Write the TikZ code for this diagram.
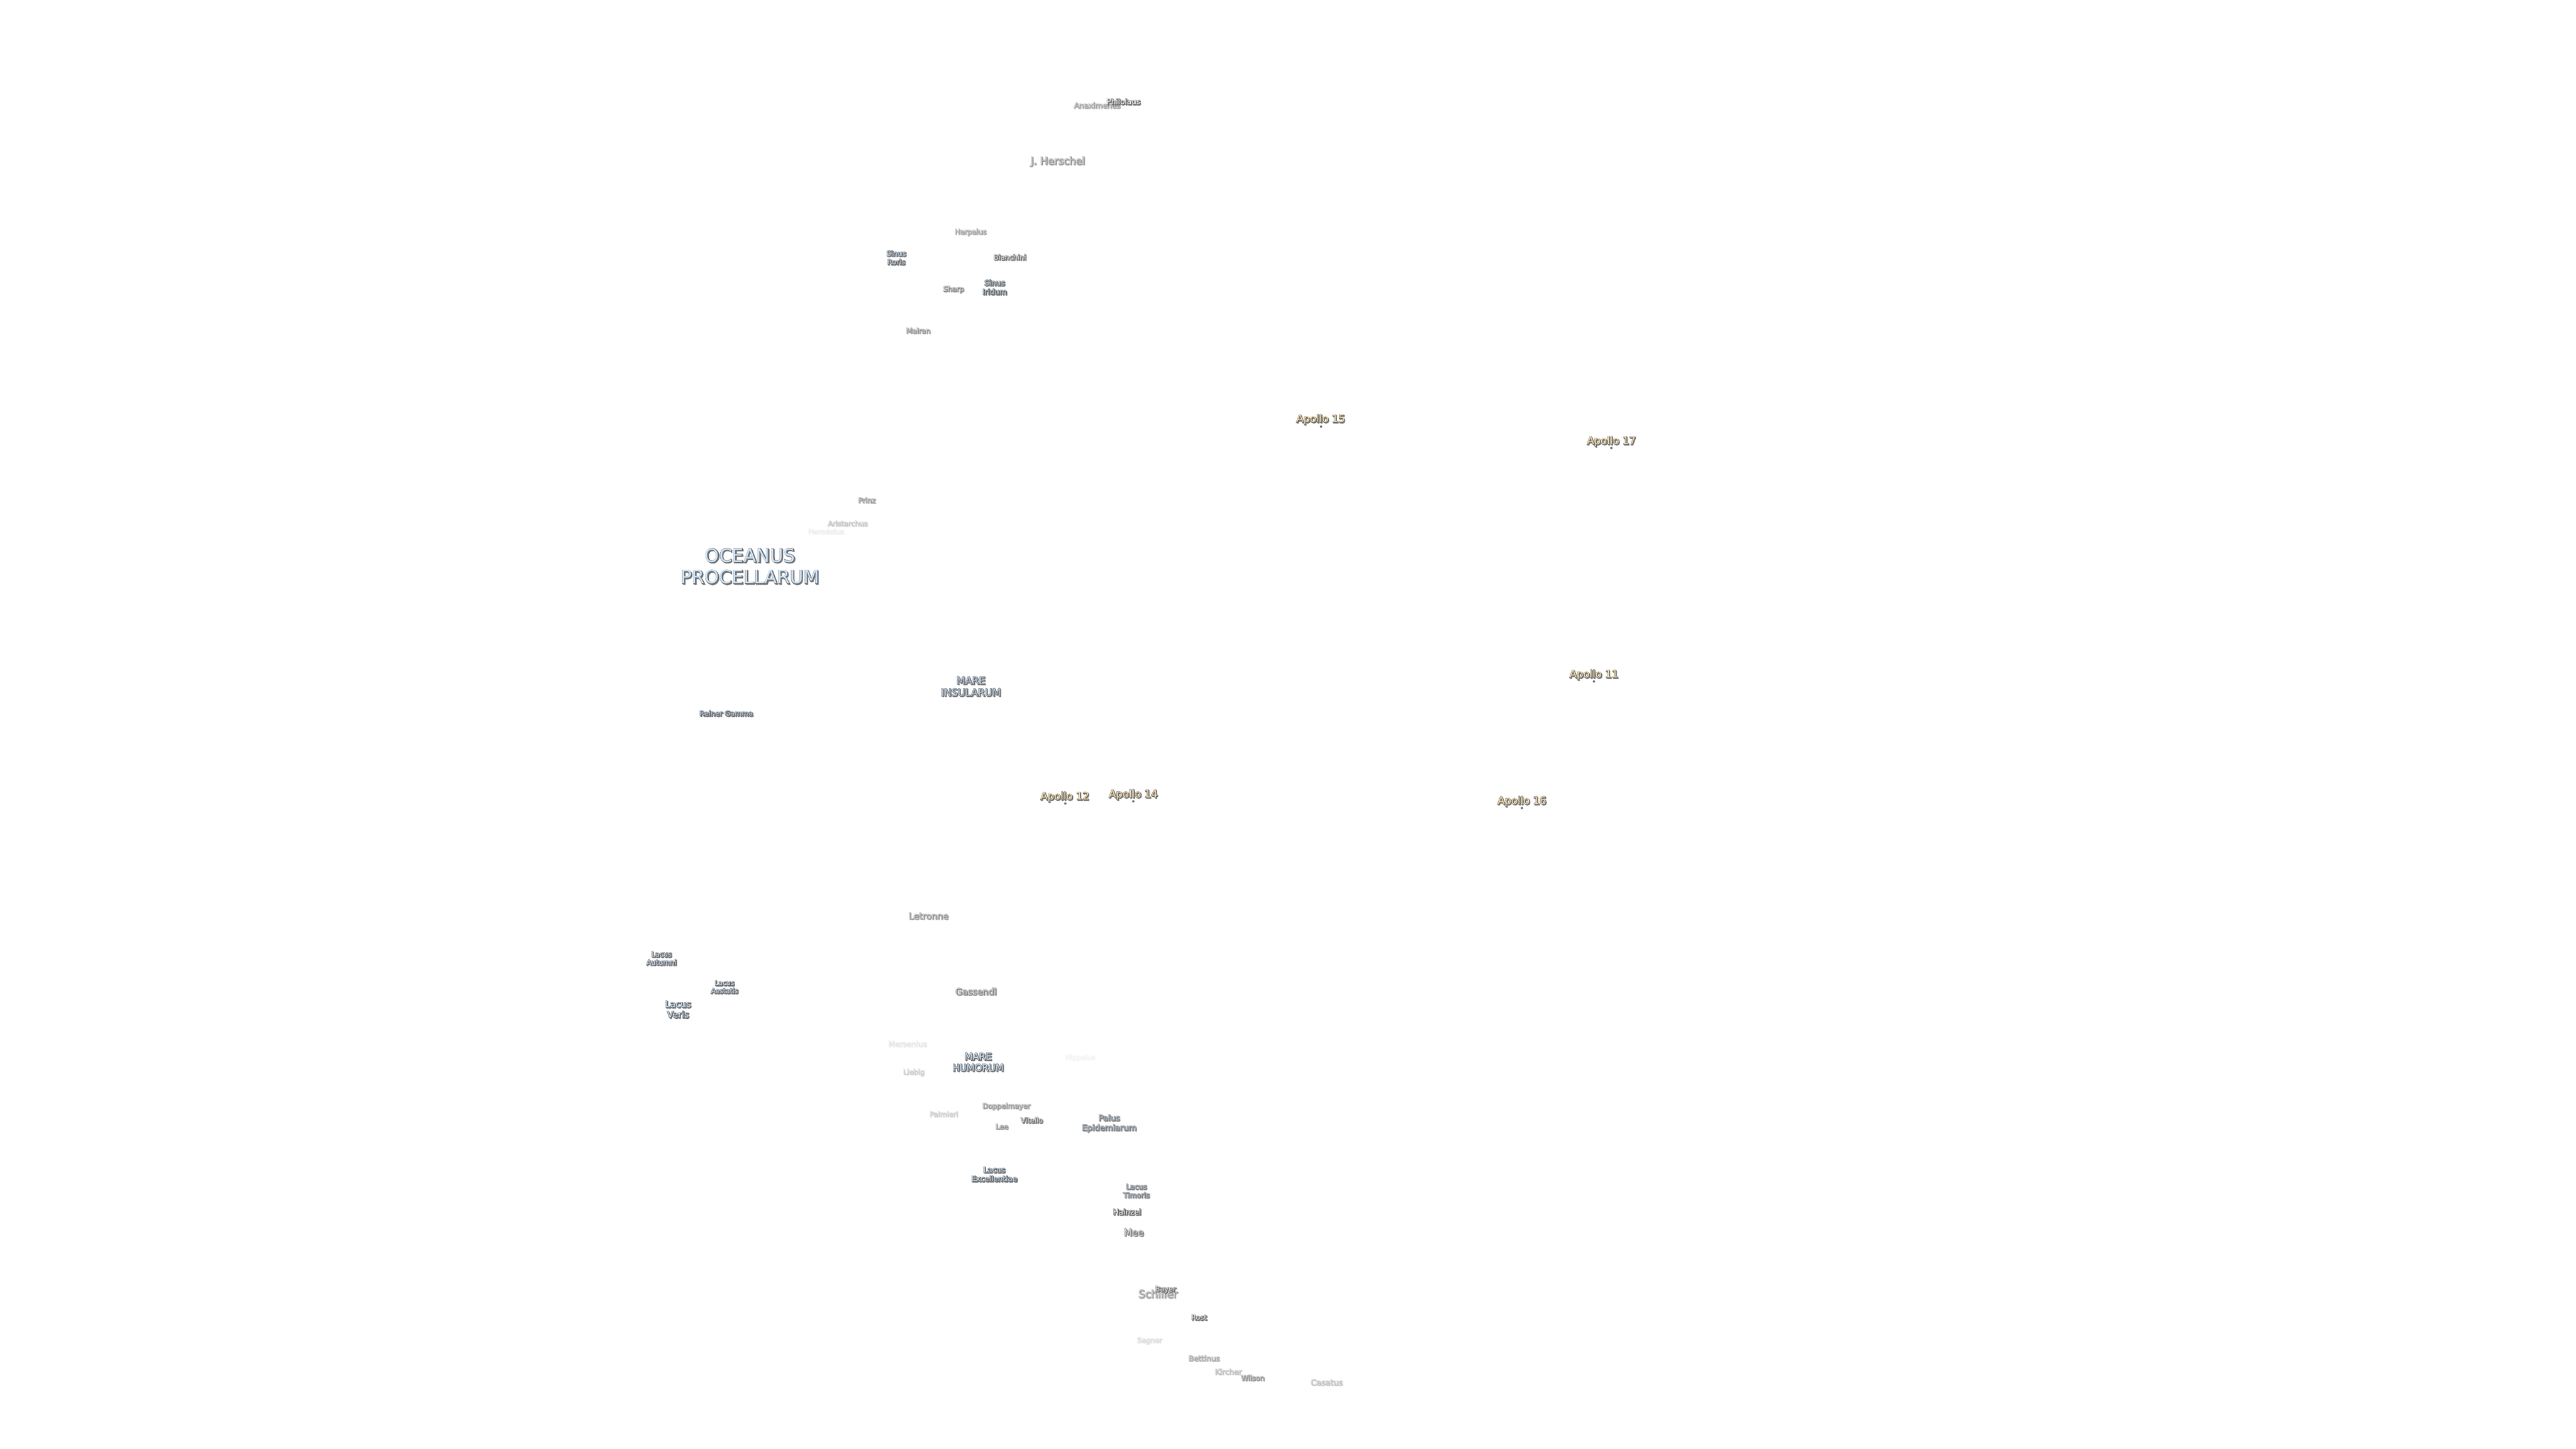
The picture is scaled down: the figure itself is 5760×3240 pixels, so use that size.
\documentclass[tikz,border=0pt]{standalone}
\usepackage{fontspec}
\setmainfont{DejaVu Sans}
\definecolor{mareblue}{RGB}{205,228,250}
\definecolor{lakeblue}{RGB}{190,215,240}
\definecolor{apollosand}{RGB}{250,225,170}
\definecolor{rimgray}{RGB}{110,110,110}
\definecolor{shadegray}{RGB}{120,120,120}
% outlined text with a drop shadow, #1 = fill colour, #2 = text
\newcommand{\rimtext}[2]{\leavevmode\makebox[0pt][l]{\kern0.5pt\raisebox{-0.5pt}{\color{shadegray}\special{pdf:code 2 Tr 0.55 w}#2\special{pdf:code 0 Tr}}}{\color{rimgray}\special{pdf:code 1 Tr 0.55 w}\makebox[0pt][l]{#2}\special{pdf:code 0 Tr}}\color{#1}#2}
\newcommand{\rimtwo}[3]{\rimtext{#1}{#2}\\\rimtext{#1}{#3}}
\begin{document}
\begin{tikzpicture}[x=0.01cm, y=-0.01cm,
    crater/.style={inner sep=0pt, align=center},
    sea/.style={crater},
    landing/.style={crater},
    sitedot/.style={circle, fill=rimgray, inner sep=0pt, minimum size=1.5pt}
]
    \useasboundingbox (0,0) rectangle (5760,3240);

    % Oceanus and maria
    \node[sea, font=\fontsize{11.7}{13.7}\selectfont] (oceanus) at (1677,1267) {\rimtwo{mareblue}{OCEANUS}{PROCELLARUM}};
    \node[sea, font=\fontsize{6.4}{7.5}\selectfont, opacity=0.85] (insularum) at (2171,1536) {\rimtwo{lakeblue}{MARE}{INSULARUM}};
    \node[sea, font=\fontsize{6}{7.1}\selectfont] (humorum) at (2187,2376) {\rimtwo{mareblue}{MARE}{HUMORUM}};

    % Sinus, lacus, palus
    \node[sea, font=\fontsize{4.6}{5.4}\selectfont, opacity=0.9] (roris) at (2004,577) {\rimtwo{mareblue}{Sinus}{Roris}};
    \node[sea, font=\fontsize{4.8}{5.7}\selectfont, opacity=0.9] (iridum) at (2224,643) {\rimtwo{lakeblue}{Sinus}{Iridum}};
    \node[sea, font=\fontsize{4.5}{5.2}\selectfont] (autumni) at (1479,2144) {\rimtwo{mareblue}{Lacus}{Autumni}};
    \node[sea, font=\fontsize{4.3}{5}\selectfont] (aestatis) at (1620,2208) {\rimtwo{mareblue}{Lacus}{Aestatis}};
    \node[sea, font=\fontsize{5.7}{6.6}\selectfont] (veris) at (1516,2258) {\rimtwo{mareblue}{Lacus}{Veris}};
    \node[sea, font=\fontsize{4.8}{5.7}\selectfont] (excellentiae) at (2223,2627) {\rimtwo{mareblue}{Lacus}{Excellentiae}};
    \node[sea, font=\fontsize{4.6}{5.4}\selectfont, opacity=0.6] (timoris) at (2541,2664) {\rimtwo{lakeblue}{Lacus}{Timoris}};
    \node[sea, font=\fontsize{5.2}{6.2}\selectfont, opacity=0.6] (epidemiarum) at (2480,2513) {\rimtwo{lakeblue}{Palus}{Epidemiarum}};
    \node[sea, font=\fontsize{4.55}{5.4}\selectfont, opacity=0.9] (reiner) at (1624,1596) {\rimtext{lakeblue}{Reiner Gamma}};

    % Craters
    \node[crater, font=\fontsize{4.8}{5.6}\selectfont, opacity=0.35] (anaximenes) at (2453,236) {\rimtext{white}{Anaximenes}};
    \node[crater, font=\fontsize{4.8}{5.6}\selectfont] (philolaus) at (2512,228) {\rimtext{white}{Philolaus}};
    \node[crater, font=\fontsize{6.5}{7.6}\selectfont, opacity=0.45] (herschel) at (2365,362) {\rimtext{white}{J. Herschel}};
    \node[crater, font=\fontsize{4.5}{5.3}\selectfont, opacity=0.35] (harpalus) at (2170,520) {\rimtext{white}{Harpalus}};
    \node[crater, font=\fontsize{4.5}{5.3}\selectfont, opacity=0.8] (bianchini) at (2258,576) {\rimtext{white}{Bianchini}};
    \node[crater, font=\fontsize{4.5}{5.3}\selectfont, opacity=0.5] (sharp) at (2132,648) {\rimtext{white}{Sharp}};
    \node[crater, font=\fontsize{4.5}{5.3}\selectfont, opacity=0.4] (mairan) at (2053,740) {\rimtext{white}{Mairan}};
    \node[crater, font=\fontsize{4.5}{5.3}\selectfont, opacity=0.4] (prinz) at (1938,1119) {\rimtext{white}{Prinz}};
    \node[crater, font=\fontsize{4.5}{5.3}\selectfont, opacity=0.18] (aristarchus) at (1895,1171) {\rimtext{white}{Aristarchus}};
    \node[crater, font=\fontsize{4.4}{5.2}\selectfont, opacity=0.05] (herodotus) at (1847,1189) {\rimtext{white}{Herodotus}};
    \node[crater, font=\fontsize{5.7}{6.7}\selectfont, opacity=0.45] (letronne) at (2076,2049) {\rimtext{white}{Letronne}};
    \node[crater, font=\fontsize{5.7}{6.7}\selectfont, opacity=0.55] (gassendi) at (2182,2218) {\rimtext{white}{Gassendi}};
    \node[crater, font=\fontsize{4.8}{5.6}\selectfont, opacity=0.07] (mersenius) at (2029,2335) {\rimtext{white}{Mersenius}};
    \node[crater, font=\fontsize{4.4}{5.2}\selectfont, opacity=0.03] (hippalus) at (2415,2366) {\rimtext{white}{Hippalus}};
    \node[crater, font=\fontsize{4.5}{5.3}\selectfont, opacity=0.15] (liebig) at (2043,2399) {\rimtext{white}{Liebig}};
    \node[crater, font=\fontsize{4.5}{5.3}\selectfont, opacity=0.4] (doppelmayer) at (2250,2475) {\rimtext{white}{Doppelmayer}};
    \node[crater, font=\fontsize{4.5}{5.3}\selectfont, opacity=0.15] (palmieri) at (2110,2492) {\rimtext{white}{Palmieri}};
    \node[crater, font=\fontsize{4.5}{5.3}\selectfont, opacity=0.75] (vitello) at (2307,2506) {\rimtext{white}{Vitello}};
    \node[crater, font=\fontsize{4.5}{5.3}\selectfont, opacity=0.45] (lee) at (2240,2520) {\rimtext{white}{Lee}};
    \node[crater, font=\fontsize{4.8}{5.6}\selectfont] (hainzel) at (2520,2711) {\rimtext{white}{Hainzel}};
    \node[crater, font=\fontsize{6}{7}\selectfont, opacity=0.7] (mee) at (2535,2757) {\rimtext{white}{Mee}};
    \node[crater, font=\fontsize{6.8}{8}\selectfont, opacity=0.4] (schiller) at (2589,2894) {\rimtext{white}{Schiller}};
    \node[crater, font=\fontsize{4.5}{5.3}\selectfont, opacity=0.85] (bayer) at (2606,2885) {\rimtext{white}{Bayer}};
    \node[crater, font=\fontsize{4.5}{5.3}\selectfont, opacity=0.9] (rost) at (2681,2947) {\rimtext{white}{Rost}};
    \node[crater, font=\fontsize{4.5}{5.3}\selectfont, opacity=0.1] (segner) at (2570,2999) {\rimtext{white}{Segner}};
    \node[crater, font=\fontsize{4.8}{5.6}\selectfont, opacity=0.3] (bettinus) at (2692,3038) {\rimtext{white}{Bettinus}};
    \node[crater, font=\fontsize{4.8}{5.6}\selectfont, opacity=0.2] (kircher) at (2746,3068) {\rimtext{white}{Kircher}};
    \node[crater, font=\fontsize{4.5}{5.3}\selectfont, opacity=0.45] (wilson) at (2801,3082) {\rimtext{white}{Wilson}};
    \node[crater, font=\fontsize{5.1}{6}\selectfont, opacity=0.2] (casatus) at (2966,3092) {\rimtext{white}{Casatus}};

    % Apollo sites
    \foreach \nm/\lx/\ly/\dx/\dy in {12/2381/1783/2382/1797, 14/2534/1778/2534/1792, 15/2953/939/2954/954, 17/3603/988/3603/1002, 11/3564/1510/3564/1524, 16/3403/1793/3403/1807} {
        \node[sitedot] (site\nm) at (\dx,\dy) {};
        \node[landing, font=\fontsize{6.6}{7.7}\selectfont] (apollo\nm) at (\lx,\ly) {\rimtext{apollosand}{Apollo \nm}};
    }
\end{tikzpicture}
\end{document}
